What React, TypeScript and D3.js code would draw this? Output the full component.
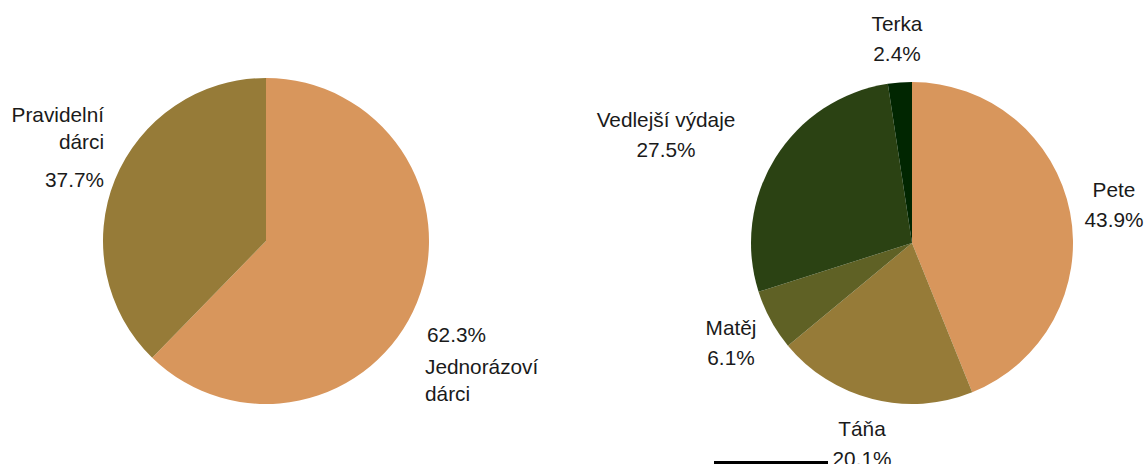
import React from "react";
import * as d3 from "d3";

const donorCategories = ["Jednorázoví dárci", "Pravidelní dárci"];
const donorValues = [62.3, 37.7];
const donorColors = ["#D8965C", "#967B38"];

const spendCategories = ["Pete", "Táňa", "Matěj", "Vedlejší výdaje", "Terka"];
const spendValues = [43.9, 20.1, 6.1, 27.5, 2.4];
const spendColors = ["#D8965C", "#967B38", "#5F6125", "#2B4213", "#012601"];

const W = 1146;
const H = 464;
const FONT = "'Liberation Sans', Arial, sans-serif";

function Pie({ values, colors, cx, cy, r }: { values: number[]; colors: string[]; cx: number; cy: number; r: number }) {
  const pie = d3.pie<number>().sort(null).value((d) => d);
  const arc = d3.arc<d3.PieArcDatum<number>>().innerRadius(0).outerRadius(r);
  const arcs = pie(values);
  return (
    <g transform={`translate(${cx},${cy})`}>
      {arcs.map((a, i) => (
        <path key={i} d={arc(a) || ""} fill={colors[i]} />
      ))}
    </g>
  );
}

type Line = { s: string; x: number; y: number };
type Lbl = { lines: Line[]; anchor: "start" | "middle" | "end" };

function Label({ l }: { l: Lbl }) {
  return (
    <g>
      {l.lines.map((ln, i) => (
        <text key={i} x={ln.x} y={ln.y} textAnchor={l.anchor} fontFamily={FONT} fontSize={20.8} fill="#1a1a1a">
          {ln.s}
        </text>
      ))}
    </g>
  );
}

export default function App() {
  const fmt = (v: number) => `${v.toFixed(1)}%`;
  const [jw, jw2] = donorCategories[0].split(" ");
  const [pw, pw2] = donorCategories[1].split(" ");
  const labels: Lbl[] = [
    { anchor: "end", lines: [{ s: pw, x: 104, y: 122 }, { s: pw2, x: 104, y: 149 }, { s: fmt(donorValues[1]), x: 104, y: 187 }] },
    { anchor: "start", lines: [{ s: fmt(donorValues[0]), x: 427, y: 342 }, { s: jw, x: 425, y: 374 }, { s: jw2, x: 425, y: 401 }] },
    { anchor: "middle", lines: [{ s: spendCategories[4], x: 897, y: 31 }, { s: fmt(spendValues[4]), x: 897, y: 61 }] },
    { anchor: "middle", lines: [{ s: spendCategories[3], x: 666, y: 127 }, { s: fmt(spendValues[3]), x: 666, y: 157 }] },
    { anchor: "middle", lines: [{ s: spendCategories[0], x: 1114, y: 197 }, { s: fmt(spendValues[0]), x: 1114, y: 227 }] },
    { anchor: "middle", lines: [{ s: spendCategories[2], x: 731, y: 335 }, { s: fmt(spendValues[2]), x: 731, y: 365 }] },
    { anchor: "middle", lines: [{ s: spendCategories[1], x: 862, y: 436 }, { s: fmt(spendValues[1]), x: 862, y: 466 }] },
  ];
  return (
    <svg width={W} height={H} style={{ position: "absolute", left: 0, top: 0, background: "#fff" }}>
      <Pie values={donorValues} colors={donorColors} cx={266} cy={241} r={163} />
      <Pie values={spendValues} colors={spendColors} cx={912} cy={243} r={161} />
      {labels.map((l, i) => (
        <Label key={i} l={l} />
      ))}
      <rect x={714} y={461} width={114} height={3} fill="#000" />
    </svg>
  );
}
